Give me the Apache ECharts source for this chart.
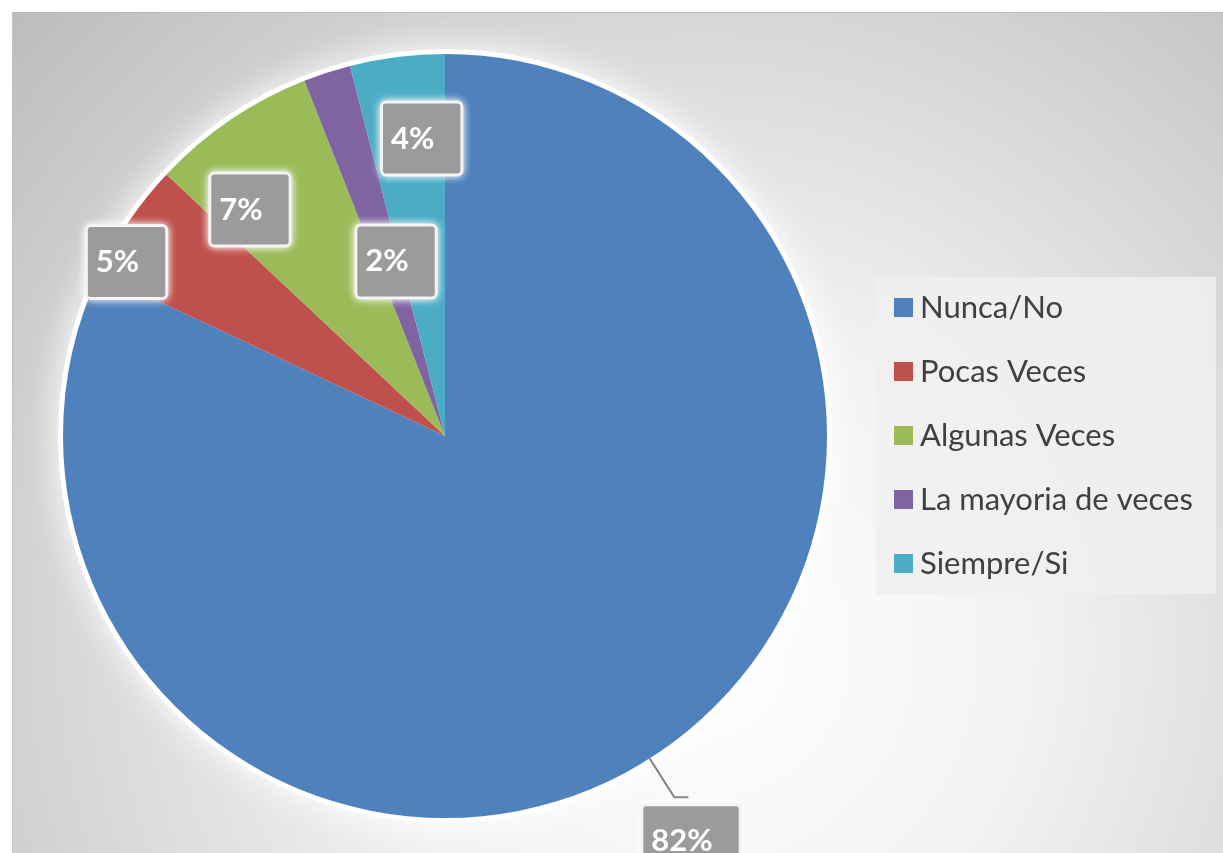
<!DOCTYPE html>
<html>
<head>
<meta charset="utf-8">
<script src="https://cdn.jsdelivr.net/npm/echarts@6/dist/echarts.min.js"></script>
<style>
  html, body { margin: 0; padding: 0; background: #fff; }
  #chart {
    position: absolute; left: 12px; top: 12px;
    width: 1211px; height: 841px;
    border-top: 1px solid #bcbcbc; border-left: 1px solid #c4c4c4;
    box-sizing: border-box;
  }
</style>
</head>
<body>
<div id="chart"></div>
<script>
const categories = ['Nunca/No', 'Pocas Veces', 'Algunas Veces', 'La mayoria de veces', 'Siempre/Si'];
const values = [82, 5, 7, 2, 4];
const colors = ['#4f81bd', '#c0504d', '#9bbb59', '#8064a2', '#4bacc6'];

// label shifts from the default slice position
const labelShift = [[-50, 44], [-158, -65], [-86, -66], [11, 10], [1, -105]];

const chart = echarts.init(document.getElementById('chart'));

const pieData = categories.map((name, i) => ({
  name: name,
  value: values[i],
  itemStyle: { color: colors[i] },
  label: i === 0 ? { position: 'outside' } : { position: 'inside' }
}));

chart.setOption({
  backgroundColor: {
    type: 'radial', x: 0.57, y: 0.76, r: 1.12,
    colorStops: [
      { offset: 0, color: '#ffffff' },
      { offset: 0.35, color: '#f2f2f2' },
      { offset: 1, color: '#bcbcbc' }
    ]
  },
  legend: {
    orient: 'vertical',
    left: 863,
    top: 264,
    padding: [15, 23, 15, 18],
    itemGap: 33,
    itemWidth: 19,
    itemHeight: 19,
    icon: 'rect',
    backgroundColor: 'rgba(240,240,240,0.85)',
    textStyle: { fontFamily: 'Lato', fontSize: 31, color: '#404040', padding: [0, 0, 0, 2] },
    data: categories
  },
  series: [
    {
      type: 'pie',
      center: [432, 423],
      radius: 382,
      startAngle: 90,
      z: 2,
      label: {
        formatter: '{d}%',
        fontFamily: 'Lato',
        fontWeight: 'bold',
        fontSize: 31,
        lineHeight: 34,
        color: '#ffffff',
        backgroundColor: '#9b9b9b',
        borderColor: '#eeeeee',
        borderWidth: 3,
        borderRadius: 3,
        padding: [10, 26, 26, 8],
        shadowColor: '#ffffff',
        shadowBlur: 8
      },
      labelLine: {
        show: true,
        length: 46,
        length2: 14,
        lineStyle: { color: '#7f7f7f', width: 2 }
      },
      labelLayout: function (params) {
        const s = labelShift[params.dataIndex];
        return { dx: s[0], dy: s[1] };
      },
      emphasis: { disabled: true },
      data: pieData
    },
    {
      // white glow behind the pie
      type: 'pie',
      silent: true,
      center: [432, 423],
      radius: 387,
      startAngle: 90,
      z: 1,
      label: { show: false },
      labelLine: { show: false },
      itemStyle: { color: '#ffffff', shadowBlur: 36, shadowColor: '#ffffff' },
      data: values.map(v => ({ value: v }))
    }
  ]
});
</script>
</body>
</html>
